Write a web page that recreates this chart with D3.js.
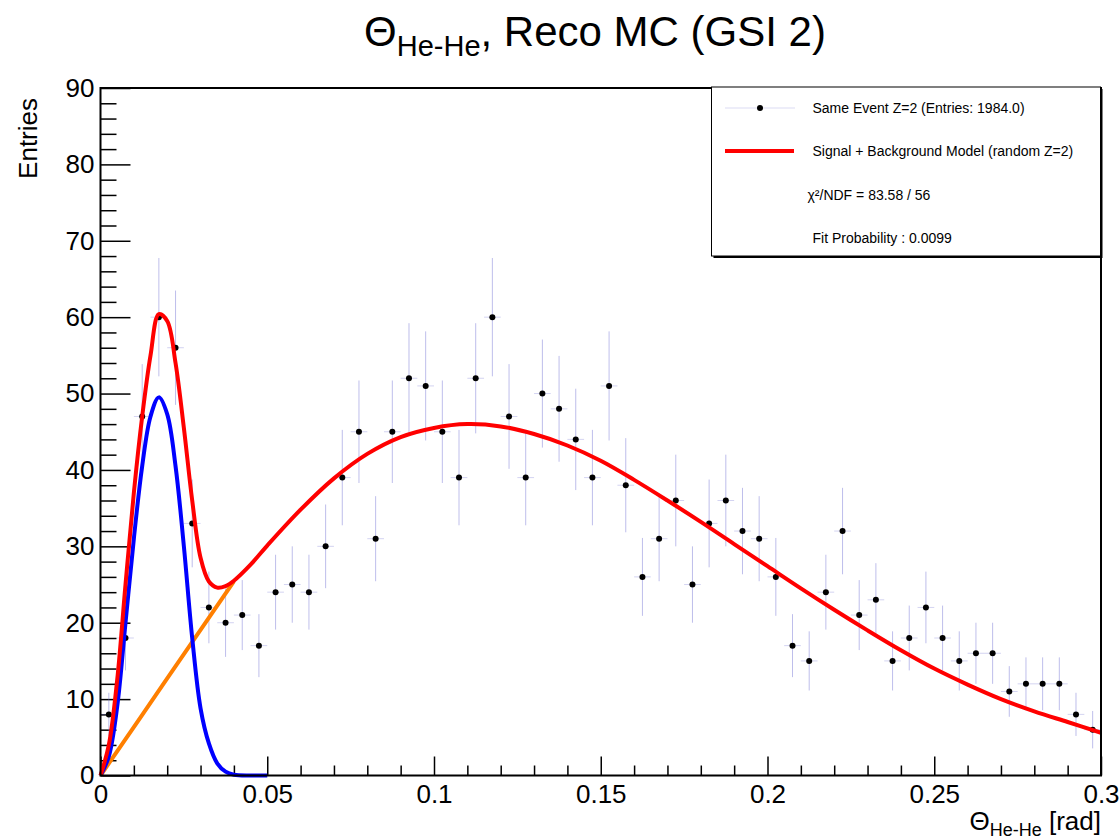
<!DOCTYPE html>
<html>
<head>
<meta charset="utf-8">
<script src="https://cdn.jsdelivr.net/npm/d3@7"></script>
<style>
  body { margin:0; background:white; }
  text { font-family: "Liberation Sans", Arial, sans-serif; }
</style>
</head>
<body>
<div id="graph-container"></div>
<script>
// histogram: bin centres in rad, entries per bin
const binCenters = [0.0025,0.0075,0.0125,0.0175,0.0225,0.0275,0.0325,0.0375,0.0425,0.0475,
  0.0525,0.0575,0.0625,0.0675,0.0725,0.0775,0.0825,0.0875,0.0925,0.0975,
  0.1025,0.1075,0.1125,0.1175,0.1225,0.1275,0.1325,0.1375,0.1425,0.1475,
  0.1525,0.1575,0.1625,0.1675,0.1725,0.1775,0.1825,0.1875,0.1925,0.1975,
  0.2025,0.2075,0.2125,0.2175,0.2225,0.2275,0.2325,0.2375,0.2425,0.2475,
  0.2525,0.2575,0.2625,0.2675,0.2725,0.2775,0.2825,0.2875,0.2925,0.2975]
const entries = [8,18,47,60,56,33,22,20,21,17,
  24,25,24,30,39,45,31,45,52,51,
  45,39,52,60,47,39,50,48,44,39,
  51,38,26,31,36,25,33,36,32,31,
  26,17,15,24,32,21,23,15,18,22,
  18,15,16,16,11,12,12,12,8,6]
const binHalfWidth = 0.0025

// fit curves
const modelX = [0,0.0025,0.005,0.0075,0.01,0.0125,0.015,0.0175,0.02,0.0225,0.025,0.0275,0.03,0.0325,0.035,0.0375,0.04,
  0.045,0.05,0.06,0.07,0.08,0.09,0.1,0.11,0.12,0.13,0.14,0.15,0.16,0.17,0.18,0.19,0.2,0.21,0.22,0.23,0.24,0.25,0.26,0.27,0.28,0.29,0.3]
const modelVals = [0,4,12.5,25,37,47,55,60.4,59.5,54,45.5,36,28.5,25.4,24.6,24.8,25.5,
  27.6,30.1,34.8,38.9,42.1,44.3,45.5,46.0,45.7,44.7,43.2,41.2,38.7,36.0,33.2,30.3,27.4,24.5,21.7,19.0,16.4,14.0,11.9,10.0,8.4,7.0,5.6]
const signalX = [0,0.0025,0.005,0.0075,0.01,0.0125,0.015,0.0175,0.02,0.0225,0.025,0.0275,0.03,0.0325,0.035,0.0375,0.04,0.045,0.05]
const signalVals = [0,2.5,9,20,31,40.5,47,49.5,47.3,40.5,30,18,8.8,4.2,1.6,0.5,0.1,0,0]
const bgX = [0,0.02,0.04]
const bgVals = [0,12.7,25.4]

const xTicks = [0,0.05,0.1,0.15,0.2,0.25,0.3]
const yTicks = [0,10,20,30,40,50,60,70,80,90]

const legendLabels = ['Same Event Z=2 (Entries: 1984.0)','Signal + Background Model (random Z=2)','\u03C7\u00B2/NDF = 83.58 / 56','Fit Probability : 0.0099']

const main = () => {
  const width = 1119
  const height = 839
  const frame = {left:100.5, right:1101, top:88, bottom:775.5}

  const svg = d3.select('#graph-container').append('svg')
    .attr('width',width)
    .attr('height',height)
    .attr('style','background:white')

  const xScale = d3.scaleLinear().domain([0,0.3]).range([frame.left,frame.right])
  const yScale = d3.scaleLinear().domain([0,90]).range([frame.bottom,frame.top])

  // minor ticks
  const xMinor = d3.range(0,0.3001,0.01).filter(v => Math.abs(v*20-Math.round(v*20))>1e-6)
  const yMinor = d3.range(0,90.01,2).filter(v => v%10!==0)

  const xAxis = svg.append('g').attr('transform',`translate(0,${frame.bottom})`)
    .call(d3.axisBottom(xScale).tickValues(xTicks).tickSizeInner(-19).tickSizeOuter(0).tickPadding(9)
      .tickFormat(d => d===0 ? '0' : d3.format('~g')(d)))
  xAxis.select('.domain').remove()
  xAxis.selectAll('line').attr('stroke','black').attr('stroke-width',1.5)
  xAxis.selectAll('text').attr('font-size',26).attr('fill','black').attr('font-family','Liberation Sans')

  const xAxisMinor = svg.append('g').attr('transform',`translate(0,${frame.bottom})`)
    .call(d3.axisBottom(xScale).tickValues(xMinor).tickSizeInner(-10).tickSizeOuter(0).tickFormat(''))
  xAxisMinor.select('.domain').remove()
  xAxisMinor.selectAll('line').attr('stroke','black').attr('stroke-width',1.5)

  const yAxis = svg.append('g').attr('transform',`translate(${frame.left},0)`)
    .call(d3.axisLeft(yScale).tickValues(yTicks).tickSizeInner(-30).tickSizeOuter(0).tickPadding(6))
  yAxis.select('.domain').remove()
  yAxis.selectAll('line').attr('stroke','black').attr('stroke-width',1.5)
  yAxis.selectAll('text').attr('font-size',26).attr('fill','black').attr('font-family','Liberation Sans')

  const yAxisMinor = svg.append('g').attr('transform',`translate(${frame.left},0)`)
    .call(d3.axisLeft(yScale).tickValues(yMinor).tickSizeInner(-16).tickSizeOuter(0).tickFormat(''))
  yAxisMinor.select('.domain').remove()
  yAxisMinor.selectAll('line').attr('stroke','black').attr('stroke-width',1.5)

  // histogram points with sqrt(N) errors
  const points = svg.append('g').attr('id','points')
  points.selectAll('line.xerr').data(entries).join('line')
    .attr('class','xerr')
    .attr('x1',(d,i) => xScale(binCenters[i]-binHalfWidth))
    .attr('x2',(d,i) => xScale(binCenters[i]+binHalfWidth))
    .attr('y1',d => yScale(d)).attr('y2',d => yScale(d))
    .attr('stroke','rgba(110,110,210,0.3)').attr('stroke-width',1)
  points.selectAll('line.yerr').data(entries).join('line')
    .attr('class','yerr')
    .attr('x1',(d,i) => xScale(binCenters[i])).attr('x2',(d,i) => xScale(binCenters[i]))
    .attr('y1',d => yScale(Math.max(0,d-Math.sqrt(d))))
    .attr('y2',d => yScale(d+Math.sqrt(d)))
    .attr('stroke','rgba(110,110,210,0.45)').attr('stroke-width',1)
  points.selectAll('circle').data(entries).join('circle')
    .attr('cx',(d,i) => xScale(binCenters[i]))
    .attr('cy',d => yScale(d))
    .attr('r',3).attr('fill','black')

  // fit curves, drawn over the histogram
  const line = (xs) => d3.line().x((d,i) => xScale(xs[i])).y(d => yScale(d)).curve(d3.curveCatmullRom.alpha(0.5))

  svg.append('path').datum(bgVals)
    .attr('d',line(bgX))
    .attr('fill','none').attr('stroke','#ff7f00').attr('stroke-width',4)

  svg.append('path').datum(signalVals)
    .attr('d',line(signalX))
    .attr('fill','none').attr('stroke','#0000ff').attr('stroke-width',4)

  svg.append('path').datum(modelVals)
    .attr('d',line(modelX))
    .attr('fill','none').attr('stroke','#ff0000').attr('stroke-width',4)

  // frame
  svg.append('rect')
    .attr('x',frame.left).attr('y',frame.top)
    .attr('width',frame.right-frame.left).attr('height',frame.bottom-frame.top)
    .attr('fill','none').attr('stroke','black').attr('stroke-width',2)

  // axis titles
  svg.append('text')
    .attr('transform','translate(37,98) rotate(-90)')
    .attr('text-anchor','end')
    .attr('font-size',26)
    .text('Entries')

  const xTitle = svg.append('text')
    .attr('x',frame.right).attr('y',830)
    .attr('text-anchor','end')
    .attr('font-size',26)
  xTitle.append('tspan').text('\u0398')
  xTitle.append('tspan').attr('font-size',18).attr('dy',6).text('He-He')
  xTitle.append('tspan').attr('dy',-6).text(' [rad]')

  const title = svg.append('text')
    .attr('x',595).attr('y',46)
    .attr('text-anchor','middle')
    .attr('font-size',42)
  title.append('tspan').text('\u0398')
  title.append('tspan').attr('font-size',29).attr('dy',10).text('He-He')
  title.append('tspan').attr('dy',-10).text(', Reco MC (GSI 2)')

  // legend
  const legend = svg.append('g').attr('id','legend')
  const box = {x:711.5, y:87, w:389, h:169}
  legend.append('rect')
    .attr('x',box.x).attr('y',box.y).attr('width',box.w).attr('height',box.h)
    .attr('fill','white').attr('stroke','black').attr('stroke-width',1)
  legend.append('line')
    .attr('x1',box.x+2).attr('x2',box.x+box.w+1).attr('y1',box.y+box.h+1).attr('y2',box.y+box.h+1)
    .attr('stroke','black').attr('stroke-width',2)
  legend.append('line')
    .attr('x1',box.x+box.w+1).attr('x2',box.x+box.w+1).attr('y1',box.y+2).attr('y2',box.y+box.h+2)
    .attr('stroke','black').attr('stroke-width',2)

  const rowY = [108,151,195,238]
  legend.append('line').attr('x1',725).attr('x2',795).attr('y1',rowY[0]).attr('y2',rowY[0])
    .attr('stroke','rgba(110,110,210,0.25)').attr('stroke-width',1)
  legend.append('circle').attr('cx',760).attr('cy',rowY[0]).attr('r',3).attr('fill','black')
  legend.append('line').attr('x1',725).attr('x2',794).attr('y1',rowY[1]).attr('y2',rowY[1])
    .attr('stroke','#ff0000').attr('stroke-width',4)

  legend.selectAll('text.legend-text').data(legendLabels).join('text')
    .attr('class','legend-text')
    .attr('x',(d,i) => i===2 ? 807.5 : 812.5)
    .attr('y',(d,i) => rowY[i]+5)
    .attr('font-size',14)
    .attr('fill','black')
    .text(d => d)
}

main()
</script>
</body>
</html>
